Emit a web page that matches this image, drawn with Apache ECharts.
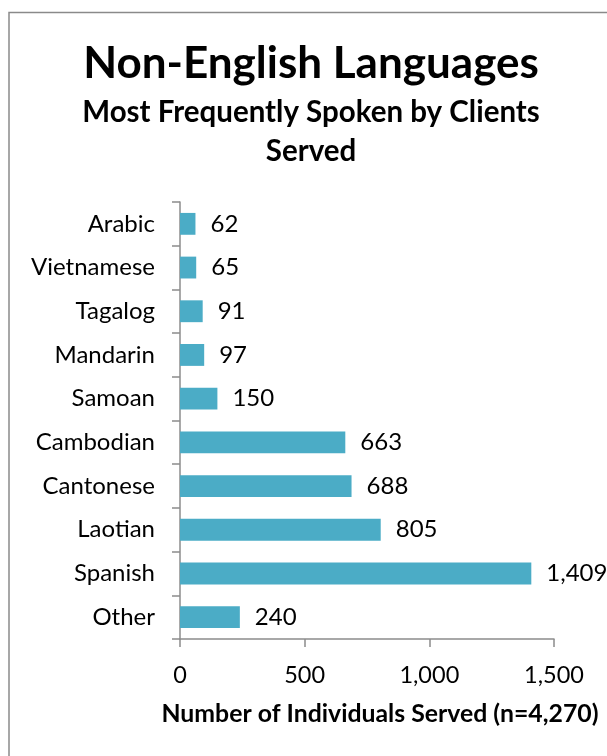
<!DOCTYPE html>
<html>
<head>
<meta charset="utf-8">
<script src="https://cdn.jsdelivr.net/npm/echarts@6/dist/echarts.min.js"></script>
<style>
  html, body { margin: 0; padding: 0; background: #fff; }
  #chart { width: 607px; height: 756px; }
</style>
</head>
<body>
<div id="chart"></div>
<script>
// Languages listed top to bottom, with the number of clients served in each
const languages = ['Arabic', 'Vietnamese', 'Tagalog', 'Mandarin', 'Samoan',
                   'Cambodian', 'Cantonese', 'Laotian', 'Spanish', 'Other'];
const clientsServed = [62, 65, 91, 97, 150, 663, 688, 805, 1409, 240];
const xTicks = [0, 500, 1000, 1500];

const FONT = 'Lato';
const axisGray = '#8c8c8c';
const fmt = v => Number(v).toLocaleString('en-US');

const chart = echarts.init(document.getElementById('chart'), null, { renderer: 'canvas' });

const subStyle = { fontFamily: FONT, fontSize: 29.5, fontWeight: 'bold', color: '#000' };
// titles are centred on the framed area, which starts a little in from the left edge
const titleX = 306;

chart.setOption({
  backgroundColor: '#ffffff',
  animation: false,
  textStyle: { fontFamily: FONT, color: '#000' },
  graphic: [{
    type: 'rect',
    shape: { x: 9, y: 12.5, width: 700, height: 800 },
    style: { fill: 'none', stroke: '#8a8a8a', lineWidth: 1.5 },
    silent: true
  }],
  title: [{
    text: 'Non-English Languages',
    left: titleX,
    textAlign: 'center',
    top: 37,
    textStyle: { fontFamily: FONT, fontSize: 44, fontWeight: 'bold', color: '#000' }
  }, {
    text: 'Most Frequently Spoken by Clients',
    left: titleX,
    textAlign: 'center',
    top: 92,
    textStyle: subStyle
  }, {
    text: 'Served',
    left: titleX,
    textAlign: 'center',
    top: 131,
    textStyle: subStyle
  }],
  grid: { left: 180, right: 53, top: 202, bottom: 117, containLabel: false },
  xAxis: {
    type: 'value',
    min: xTicks[0],
    max: xTicks[xTicks.length - 1],
    interval: xTicks[1] - xTicks[0],
    splitLine: { show: false },
    axisLine: { show: true, lineStyle: { color: axisGray, width: 1.5 } },
    axisTick: { show: true, length: 8, lineStyle: { color: axisGray, width: 1.5 } },
    axisLabel: { fontFamily: FONT, fontSize: 23.5, color: '#000', margin: 24, formatter: fmt },
    name: 'Number of Individuals Served (n=4,270)',
    nameLocation: 'middle',
    nameGap: 63,
    nameTextStyle: { fontFamily: FONT, fontSize: 24.8, fontWeight: 'bold', color: '#000', padding: [0, 0, 0, 26] }
  },
  yAxis: {
    type: 'category',
    data: languages,
    inverse: true,
    axisLine: { show: true, lineStyle: { color: axisGray, width: 1.5 } },
    axisTick: { show: true, length: 8, alignWithLabel: false, lineStyle: { color: axisGray, width: 1.5 } },
    axisLabel: { fontFamily: FONT, fontSize: 24, color: '#000', margin: 25 }
  },
  series: [{
    type: 'bar',
    data: clientsServed,
    barWidth: '50%',
    itemStyle: { color: '#4bacc6' },
    label: {
      show: true,
      position: 'right',
      distance: 15,
      fontFamily: FONT,
      fontSize: 24,
      color: '#000',
      formatter: p => fmt(p.value)
    }
  }]
});
</script>
</body>
</html>
